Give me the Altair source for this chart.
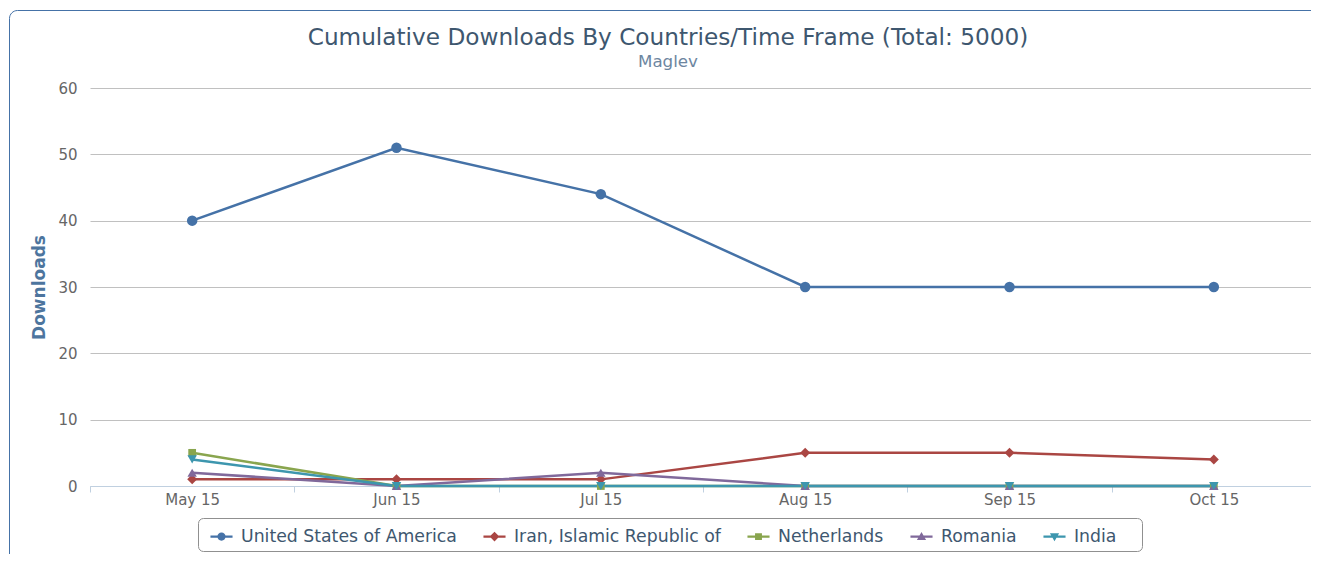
import altair as alt
import pandas as pd

months = ["May 15", "Jun 15", "Jul 15", "Aug 15", "Sep 15", "Oct 15"]
countries = ["United States of America", "Iran, Islamic Republic of", "Netherlands", "Romania", "India"]
usa = [40, 51, 44, 30, 30, 30]
iran = [1, 1, 1, 5, 5, 4]
netherlands = [5, 0, 0, 0, 0, 0]
romania = [2, 0, 2, 0, 0, 0]
india = [4, 0, 0, 0, 0, 0]
colors = ["#4572A7", "#AA4643", "#89A54E", "#80699B", "#3D96AE"]
shapes = ["circle", "diamond", "square", "triangle-up", "triangle-down"]
marker_sizes = [110, 100, 60, 90, 90]

series = [usa, iran, netherlands, romania, india]
rows = []
for ci, (c, vals) in enumerate(zip(countries, series)):
    for m, v in zip(months, vals):
        rows.append({"Country": c, "Month": m, "Downloads": v, "order": ci})
df = pd.DataFrame(rows)

FONT = "DejaVu Sans"
bar = "M-0.96,-0.09H0.96V0.09H-0.96Z "
legend_paths = [
    bar + "M0,-0.36A0.36,0.36 0 1 1 0,0.36A0.36,0.36 0 1 1 0,-0.36Z",
    bar + "M0,-0.42L0.42,0L0,0.42L-0.42,0Z",
    bar + "M-0.3,-0.3H0.3V0.3H-0.3Z",
    bar + "M0,-0.4L0.4,0.3H-0.4Z",
    bar + "M0,0.4L-0.4,-0.3H0.4Z",
]

xenc = alt.X(
    "Month:O",
    sort=months,
    bandPosition=0.5,
    scale=alt.Scale(type="band", paddingInner=0, paddingOuter=0, range=[0, 1226]),
    axis=alt.Axis(
        title=None, labelAngle=0, tickBand="extent", grid=False,
        domainColor="#C0D0E0", tickColor="#C0D0E0", tickSize=6,
        labelColor="#666666", labelFontSize=15, labelFont=FONT, labelPadding=0,
    ),
)
yenc = alt.Y(
    "Downloads:Q",
    scale=alt.Scale(domain=[0, 60], nice=False),
    axis=alt.Axis(
        values=[0, 10, 20, 30, 40, 50, 60], title="Downloads", domain=False, ticks=False,
        gridColor="#C0C0C0", labelColor="#666666", labelFontSize=15, labelFont=FONT,
        labelPadding=13, titleColor="#4D759E", titleFontSize=17, titleFont=FONT,
        titleFontWeight="bold", titlePadding=9,
    ),
)
color_scale = alt.Scale(domain=countries, range=colors)

base = alt.Chart(df)
lines = base.mark_line(strokeWidth=2.5).encode(
    x=xenc, y=yenc,
    stroke=alt.Stroke("Country:N", scale=color_scale, legend=None),
)

point_layers = []
for c, col, shp, sz in zip(countries, colors, shapes, marker_sizes):
    point_layers.append(
        base.transform_filter(alt.datum.Country == c).mark_point(
            filled=True, opacity=1, shape=shp, size=sz, color=col
        ).encode(x=xenc, y=yenc)
    )

legend_layer = base.transform_filter("false").mark_point(filled=True, opacity=1).encode(
    color=alt.Color("Country:N", scale=color_scale, legend=alt.Legend(title=None)),
    shape=alt.Shape("Country:N", scale=alt.Scale(domain=countries, range=legend_paths),
                    legend=alt.Legend(title=None)),
)

one = alt.Data(values=[{"a": 1}])
frame = alt.Chart(one).mark_rect(fill="transparent", stroke="#4572A7", strokeWidth=1, cornerRadius=8).encode(
    x=alt.value(-80.5), x2=alt.value(1260), y=alt.value(-77.5), y2=alt.value(520)
)
legend_box = alt.Chart(one).mark_rect(fill="transparent", stroke="#909090", strokeWidth=1, cornerRadius=5).encode(
    x=alt.value(108.5), x2=alt.value(1052.5), y=alt.value(430.5), y2=alt.value(463.5)
)

chart = alt.layer(frame, legend_box, lines, *point_layers, legend_layer).resolve_scale(
    color="independent", shape="independent"
).properties(
    width=1221,
    height=398,
    autosize=alt.AutoSizeParams(type="none"),
    padding={"left": 82, "top": 80, "right": 0, "bottom": 68},
    title=alt.TitleParams(
        text="Cumulative Downloads By Countries/Time Frame (Total: 5000)",
        subtitle="Maglev",
        font=FONT, fontSize=23.2, fontWeight="normal", color="#3E576F",
        subtitleFont=FONT, subtitleFontSize=16.7, subtitleColor="#6D869F",
        subtitlePadding=4, anchor="middle", frame="group", dx=-32.5, offset=-62,
    ),
).configure_view(stroke=None).configure_legend(
    orient="none", legendX=120, legendY=437, direction="horizontal", columns=5,
    symbolSize=529, labelOffset=8, columnPadding=26, labelFontSize=17.3, labelFont=FONT,
    labelColor="#3E576F", labelLimit=500, padding=0, symbolStrokeWidth=0,
)

chart.save("out.html", embed_options={"renderer": "svg", "actions": False})
